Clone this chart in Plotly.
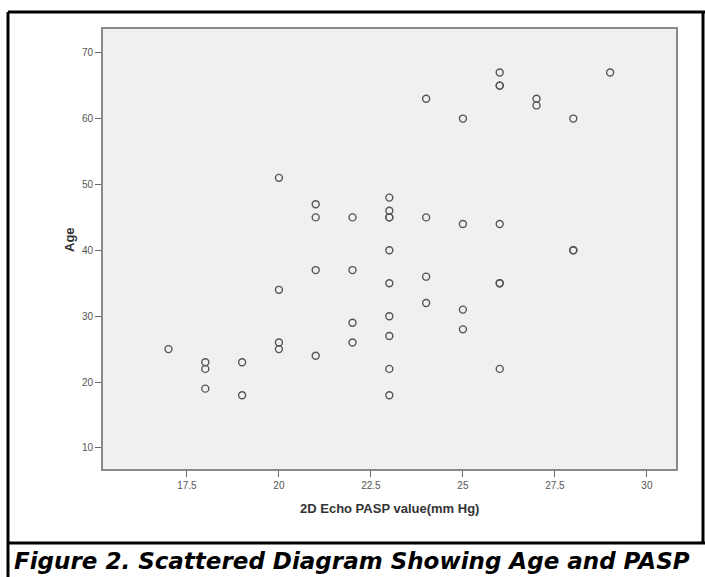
import plotly.graph_objects as go

# Data (2D Echo PASP vs Age)
pasp = [17,
        18, 18, 18,
        19, 19,
        20, 20, 20, 20,
        21, 21, 21, 21,
        22, 22, 22, 22,
        23, 23, 23, 23, 23, 23, 23, 23, 23, 23,
        24, 24, 24, 24,
        25, 25, 25, 25,
        26, 26, 26, 26, 26, 26, 26,
        27, 27,
        28, 28, 28,
        29]
age = [25,
       23, 22, 19,
       23, 18,
       51, 34, 26, 25,
       47, 45, 37, 24,
       45, 37, 29, 26,
       48, 46, 45, 45, 40, 35, 30, 27, 22, 18,
       63, 45, 36, 32,
       60, 44, 31, 28,
       67, 65, 65, 44, 35, 35, 22,
       63, 62,
       60, 40, 40,
       67]

x_ticks = [17.5, 20, 22.5, 25, 27.5, 30]
x_tick_labels = ["17.5", "20", "22.5", "25", "27.5", "30"]
y_ticks = [10, 20, 30, 40, 50, 60, 70]
y_tick_labels = ["10", "20", "30", "40", "50", "60", "70"]

x_title = "2D Echo PASP value(mm Hg)"
y_title = "Age"
caption = "Figure 2. Scattered Diagram Showing Age and PASP"

W, H = 705, 577
L, R, T, B = 103, 29, 29, 108
pw, ph = W - L - R, H - T - B

def px(x):
    return (x - L) / pw

def py(y):
    return (H - B - y) / ph

fig = go.Figure()
fig.add_trace(go.Scatter(
    x=pasp, y=age, mode="markers",
    marker=dict(symbol="circle-open", size=7, color="#555555",
                line=dict(width=1.4, color="#505050")),
    showlegend=False, hoverinfo="x+y"))

axis_common = dict(
    showgrid=False, zeroline=False, showline=True, mirror=True,
    linecolor="#8a8a8a", linewidth=2, ticks="outside", ticklen=6,
    tickcolor="#666666", tickwidth=1,
    tickfont=dict(family="Liberation Sans, Arial, sans-serif", size=10, color="#555555"))

fig.update_xaxes(range=[15.22, 30.79], tickvals=x_ticks, ticktext=x_tick_labels, **axis_common)
fig.update_yaxes(range=[6.8, 73.6], tickvals=y_ticks, ticktext=y_tick_labels, **axis_common)

shapes = []
line_style = dict(color="black", width=3)
# outer frame
shapes.append(dict(type="line", xref="paper", yref="paper", x0=px(8), x1=px(8), y0=py(12), y1=py(580), line=line_style))
shapes.append(dict(type="line", xref="paper", yref="paper", x0=px(8), x1=px(706), y0=py(12), y1=py(12), line=line_style))
shapes.append(dict(type="line", xref="paper", yref="paper", x0=px(703), x1=px(703), y0=py(12), y1=py(543), line=line_style))
shapes.append(dict(type="line", xref="paper", yref="paper", x0=px(8), x1=px(706), y0=py(543), y1=py(543), line=line_style))

annotations = [
    dict(text="<b>" + x_title + "</b>", xref="paper", yref="paper", x=0.5, y=py(508),
         showarrow=False, xanchor="center", yanchor="middle",
         font=dict(family="Liberation Sans, Arial, sans-serif", size=13, color="#333333")),
    dict(text="<b>" + y_title + "</b>", xref="paper", yref="paper", x=px(70), y=py(240),
         showarrow=False, textangle=-90, xanchor="center", yanchor="middle",
         font=dict(family="Liberation Sans, Arial, sans-serif", size=13, color="#333333")),
    dict(text="<b><i>" + caption + "</i></b>", xref="paper", yref="paper", x=px(352), y=py(561),
         showarrow=False, xanchor="center", yanchor="middle",
         font=dict(family="DejaVu Sans, Verdana, sans-serif", size=23, color="black")),
]

fig.update_layout(
    width=W, height=H, autosize=False,
    margin=dict(l=L, r=R, t=T, b=B),
    paper_bgcolor="white", plot_bgcolor="#f0f0f0",
    shapes=shapes, annotations=annotations)

fig.write_html("out.html", config={"displayModeBar": False},
               post_script="document.body.style.margin='0px';document.body.style.overflow='hidden';")
